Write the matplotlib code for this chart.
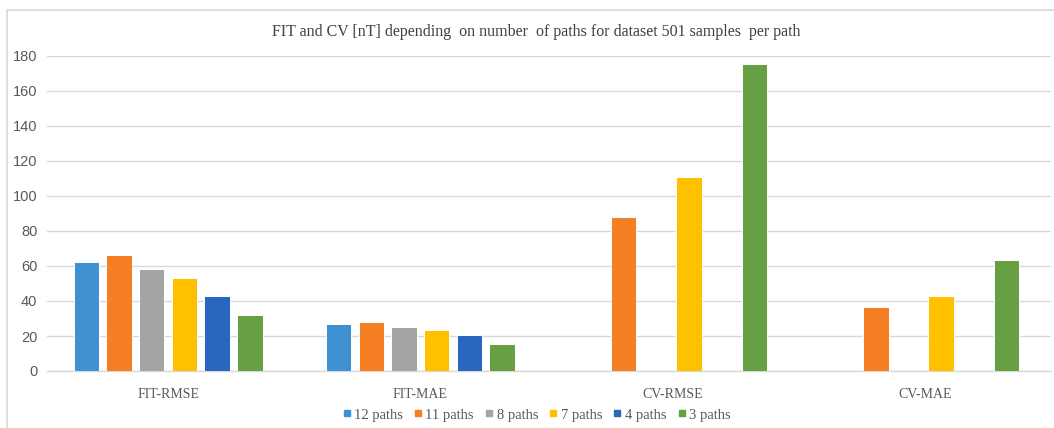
import numpy as np
import matplotlib
matplotlib.use("Agg")
import matplotlib.pyplot as plt
from matplotlib.patches import Rectangle
from matplotlib.lines import Line2D

categories = ["FIT-RMSE", "FIT-MAE", "CV-RMSE", "CV-MAE"]
series = ["12 paths", "11 paths", "8 paths", "7 paths", "4 paths", "3 paths"]
v12 = [62.1, 26.8, np.nan, np.nan]
v11 = [66.3, 28.1, 88.2, 36.8]
v8 = [58.1, 25.0, np.nan, np.nan]
v7 = [53.3, 23.5, 110.9, 42.6]
v4 = [42.6, 20.4, np.nan, np.nan]
v3 = [32.1, 15.6, 175.3, 63.2]
values = [v12, v11, v8, v7, v4, v3]
colors = ["#3F91D1", "#F57F22", "#A5A5A5", "#FFC000", "#2966BE", "#67A043"]
yticks = [0, 20, 40, 60, 80, 100, 120, 140, 160, 180]

W, H = 1054, 428
fig = plt.figure(figsize=(W / 100, H / 100), dpi=100)
fig.patch.set_facecolor("white")

# chart border
fig.add_artist(Rectangle((7 / W, -0.1), 1.2, (H - 10) / H + 0.1, transform=fig.transFigure,
                         fill=False, edgecolor="#D9D9D9", linewidth=1.2))

ax = fig.add_axes([47 / W, 1 - 371 / H, (1051 - 47) / W, (371 - 56) / H])
step = 0.1296
width = 0.101
x = np.arange(len(categories))
for i, (vals, c) in enumerate(zip(values, colors)):
    ax.bar(x + (i - 2.5) * step, vals, width=width, color=c, edgecolor="white",
           linewidth=0.7, label=series[i], zorder=3)

ax.set_xlim(-0.48, 3.5)
ax.set_ylim(0, 180)
ax.set_yticks(yticks)
ax.set_xticks(x)
ax.set_xticklabels(categories, fontfamily="Liberation Serif", fontsize=10, color="#595959")
for lab in ax.get_yticklabels():
    lab.set_fontfamily("Liberation Sans")
    lab.set_fontsize(10.5)
    lab.set_color("#595959")
ax.tick_params(axis="both", length=0)
ax.tick_params(axis="y", pad=7)
ax.tick_params(axis="x", pad=12)
ax.grid(axis="y", color="#D9D9D9", linewidth=1.0, zorder=0)
for s in ["top", "right", "left"]:
    ax.spines[s].set_visible(False)
ax.spines["bottom"].set_color("#D9D9D9")
ax.spines["bottom"].set_linewidth(1.0)
ax.set_facecolor("white")

fig.text(536 / W, 1 - 32 / H, "FIT and CV [nT] depending  on number  of paths for dataset 501 samples  per path",
         ha="center", va="center", fontfamily="Liberation Serif", fontsize=11.5, color="#404040")

handles = [Line2D([], [], marker="s", linestyle="none", markersize=5, markerfacecolor=c,
                  markeredgecolor=c) for c in colors]
fig.legend(handles, series, loc="center", bbox_to_anchor=(536 / W, 1 - 415 / H), ncol=6,
           frameon=False, prop={"family": "Liberation Serif", "size": 10.5}, labelcolor="#595959",
           handletextpad=0.15, columnspacing=0.7, handlelength=0.7)

fig.savefig("out.png", dpi=100, facecolor="white")
